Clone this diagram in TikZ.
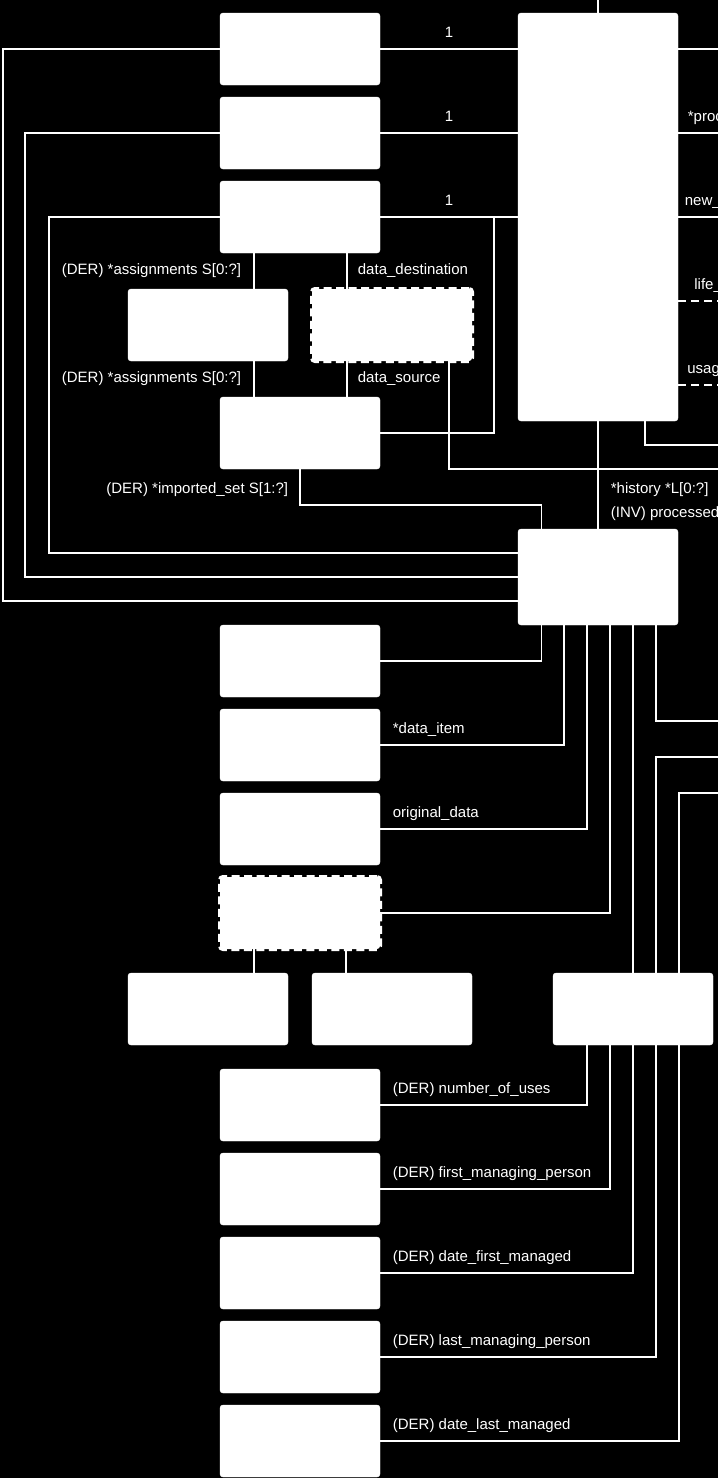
\documentclass[tikz,border=0pt]{standalone}
\usepackage{fontspec}
\setmainfont{Liberation Sans}
\usetikzlibrary{positioning, calc}
\tikzset{
  entity/.style={rectangle, minimum width=160pt, minimum height=72pt, fill=white, draw=white, rounded corners=3pt, inner sep=0pt, outer sep=0pt},
  entityD/.style={entity, line width=4pt, dash pattern=on 8pt off 4.5pt},
  link/.style={draw=white, line width=1.8pt},
  linkD/.style={link, line width=2.8pt, dash pattern=on 8pt off 5pt},
  attr/.style={text=white, font=\fontsize{15}{18}\selectfont, inner sep=0pt},
}
\begin{document}
\begin{tikzpicture}[x=1pt, y=-1pt, node distance=12pt]
\fill[black] (0,0) rectangle (718,1478);
\useasboundingbox (0,0) rectangle (718,1478);
\clip (0,0) rectangle (718,1478);
\node (a1) [entity] at (300,49) {};
\node (a2) [entity, below=of a1] {};
\node (a3) [entity, below=of a2] {};
\node (m) [entity, minimum height=408pt] at (598,217) {};
\node (b1) [entity] at (208,325) {};
\node (d1) [entityD] at (392,325) {};
\node (c) [entity] at (300,433) {};
\node (p) [entity, minimum height=96pt] at (598,577) {};
\node (e1) [entity] at (300,661) {};
\node (e2) [entity, below=of e1] {};
\node (e3) [entity, below=of e2] {};
\node (d2) [entityD, below=of e3] {};
\node (g1) [entity] at (208,1009) {};
\node (g2) [entity] at (392,1009) {};
\node (q) [entity] at (633,1009) {};
\node (f1) [entity] at (300,1105) {};
\node (f2) [entity, below=of f1] {};
\node (f3) [entity, below=of f2] {};
\node (f4) [entity, below=of f3] {};
\node (f5) [entity, below=of f4] {};
\coordinate (top) at (598,0);
\coordinate (mr1) at (718,49);
\coordinate (mr2) at (718,133);
\coordinate (mr3) at (718,217);
\coordinate (mr4) at (718,301);
\coordinate (mr5) at (718,385);
\coordinate (mb) at (718,445);
\coordinate (dr) at (718,469);
\coordinate (pr) at (718,721);
\coordinate (qr1) at (718,757);
\coordinate (qr2) at (718,793);
\draw[link] (m.north) -- (top);
\foreach \t in {a1, a2, a3}
  \draw[link] (\t.east) -- (m.west |- \t.east) node[attr, midway, anchor=base, yshift=11.5pt] {1};
\draw[link] (a1.west) -| (3,601) -- (p.west |- 0,601);
\draw[link] (a2.west) -| (25,577) -- (p.west |- 0,577);
\draw[link] (a3.west) -| (49,553) -- (p.west |- 0,553);
\draw[link] (c.east) -| (a3.east -| 494,0);
\draw[link] (a3.south -| 254,0) -- (b1.north -| 254,0) node[attr, midway, anchor=east, xshift=-12pt] {(DER) *assignments S[0:?]};
\draw[link] (a3.south -| 347,0) -- (d1.north -| 347,0) node[attr, midway, anchor=west, xshift=10pt] {data\_destination};
\draw[link] (b1.south -| 254,0) -- (c.north -| 254,0) node[attr, midway, anchor=east, xshift=-12pt] {(DER) *assignments S[0:?]};
\draw[link] (d1.south -| 347,0) -- (c.north -| 347,0) node[attr, midway, anchor=west, xshift=10pt] {data\_source};
\draw[link] (d1.south -| 449,0) |- (dr);
\draw[link] (c.south) -- ++(0,36) -| (p.north -| 541.5,0) node[attr, pos=0, anchor=base east, xshift=-11pt, yshift=11.5pt] {(DER) *imported\_set S[1:?]};
\draw[link] (m.south) -- (p.north)
  node[attr, pos=1, anchor=base west, xshift=12pt, yshift=36pt] {*history *L[0:?]}
  node[attr, pos=1, anchor=base west, xshift=12pt, yshift=11.5pt] {(INV) processed};
\draw[link] (m.south -| 645,0) |- (mb);
\draw[link] (m.east |- mr1) -- (mr1);
\draw[link] (m.east |- mr2) -- (mr2) node[attr, pos=0, anchor=base west, xshift=9pt, yshift=11.5pt] {*proc};
\draw[link] (m.east |- mr3) -- (mr3) node[attr, pos=0, anchor=base west, xshift=6pt, yshift=11.5pt] {new\_};
\draw[linkD] (m.east |- mr4) -- (mr4) node[attr, pos=0, anchor=base west, xshift=15pt, yshift=11.5pt] {life\_};
\draw[linkD] (m.east |- mr5) -- (mr5) node[attr, pos=0, anchor=base west, xshift=8pt, yshift=11.5pt] {usag};
\draw[link] (e1.east) -| (p.south -| 541.5,0);
\draw[link] (e2.east) -| (p.south -| 564.3,0) node[attr, pos=0, anchor=base west, xshift=12pt, yshift=11.5pt] {*data\_item};
\draw[link] (e3.east) -| (p.south -| 587.2,0) node[attr, pos=0, anchor=base west, xshift=12pt, yshift=11.5pt] {original\_data};
\draw[link] (d2.east) -| (p.south -| 610,0);
\draw[link] (p.south -| 633,0) -- (q.north -| 633,0);
\draw[link] (p.south -| 656,0) |- (pr);
\draw[link] (qr1) -| (q.north -| 656,0);
\draw[link] (qr2) -| (q.north -| 679,0);
\draw[link] (d2.south -| 254,0) -- (g1.north -| 254,0);
\draw[link] (d2.south -| 346,0) -- (g2.north -| 346,0);
\foreach \x/\t/\s in {587.2/f1/number\_of\_uses, 610/f2/first\_managing\_person, 633/f3/date\_first\_managed, 656/f4/last\_managing\_person, 679/f5/date\_last\_managed}
  \draw[link] (\t.east) -| (q.south -| \x,0) node[attr, pos=0, anchor=base west, xshift=12pt, yshift=11.5pt] {(DER) \s};
\end{tikzpicture}
\end{document}
